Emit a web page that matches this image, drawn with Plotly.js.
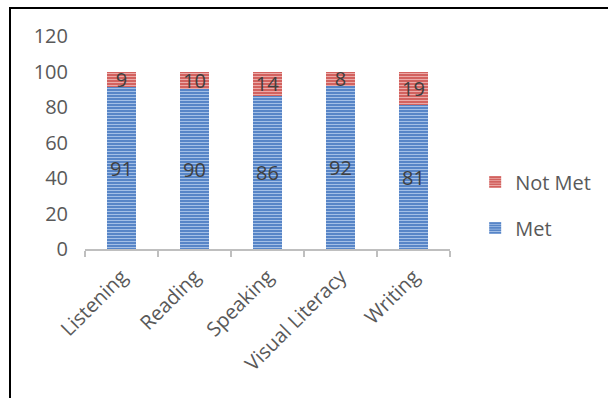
<!DOCTYPE html>
<html>
<head>
<meta charset="utf-8">
<script src="https://cdn.plot.ly/plotly-3.0.1.min.js"></script>
<style>
html,body{margin:0;padding:0;background:#fff;}
#wrap{position:relative;width:608px;height:398px;overflow:hidden;}
#frame{position:absolute;left:9px;top:7px;width:620px;height:420px;border:2px solid #000;box-sizing:border-box;pointer-events:none;}
#chart{position:absolute;left:0;top:0;width:608px;height:398px;}
</style>
</head>
<body>
<div id="wrap">
<div id="chart"></div>
<div id="frame"></div>
</div>
<script>
const categories = ["Listening", "Reading", "Speaking", "Visual Literacy", "Writing"];
const metValues = [91, 90, 86, 92, 81];
const notMetValues = [9, 10, 14, 8, 19];
const yTicks = [0, 20, 40, 60, 80, 100, 120];

const fontFam = '"Open Sans", "Liberation Sans", sans-serif';

const met = {
  type: 'bar', name: 'Met', x: categories, y: metValues,
  legend: 'legend2',
  width: 0.4,
  marker: {color: '#4a7cc2', line: {width: 0},
    pattern: {shape: '-', bgcolor: '#4f7fc4', fgcolor: '#a3bfe6', size: 3, solidity: 0.4, fillmode: 'replace'}},
  text: metValues.map(String), textposition: 'inside', insidetextanchor: 'middle',
  textangle: 0, constraintext: 'none',
  textfont: {family: fontFam, size: 20, color: '#404040'},
  hoverinfo: 'skip'
};
const notMet = {
  type: 'bar', name: 'Not Met', x: categories, y: notMetValues,
  legend: 'legend',
  width: 0.4,
  marker: {color: '#cf5552', line: {width: 0},
    pattern: {shape: '-', bgcolor: '#d05a57', fgcolor: '#eba9a7', size: 3, solidity: 0.4, fillmode: 'replace'}},
  text: notMetValues.map(String), textposition: 'inside', insidetextanchor: 'middle',
  textangle: 0, constraintext: 'none',
  textfont: {family: fontFam, size: 20, color: '#404040'},
  hoverinfo: 'skip'
};

const legendStyle = {
  xanchor: 'left', yanchor: 'middle',
  font: {family: fontFam, size: 20, color: '#595959'},
  itemwidth: 30, bgcolor: 'rgba(0,0,0,0)'
};

const layout = {
  width: 608, height: 398,
  margin: {l: 85, r: 158, t: 36, b: 149},
  barmode: 'stack',
  paper_bgcolor: '#ffffff', plot_bgcolor: '#ffffff',
  font: {family: fontFam, size: 20, color: '#595959'},
  showlegend: true,
  legend: Object.assign({x: 1.069, y: 0.315}, legendStyle),
  legend2: Object.assign({x: 1.069, y: 0.099}, legendStyle),
  xaxis: {
    type: 'category', tickangle: -45,
    showline: true, linecolor: '#bfbfbf', linewidth: 2,
    ticks: 'outside', tickson: 'boundaries', ticklen: 6, tickcolor: '#bfbfbf', tickwidth: 2,
    ticklabelstandoff: 6,
    showgrid: false, zeroline: false,
    tickfont: {family: fontFam, size: 20, color: '#595959'}
  },
  yaxis: {
    range: [0, 120], tickvals: yTicks, ticktext: yTicks.map(String),
    showgrid: false, zeroline: false, showline: false, ticks: '',
    ticklabelstandoff: 16,
    tickfont: {family: fontFam, size: 20, color: '#595959'}
  }
};

Plotly.newPlot('chart', [met, notMet], layout, {staticPlot: true, displayModeBar: false});
</script>
</body>
</html>
